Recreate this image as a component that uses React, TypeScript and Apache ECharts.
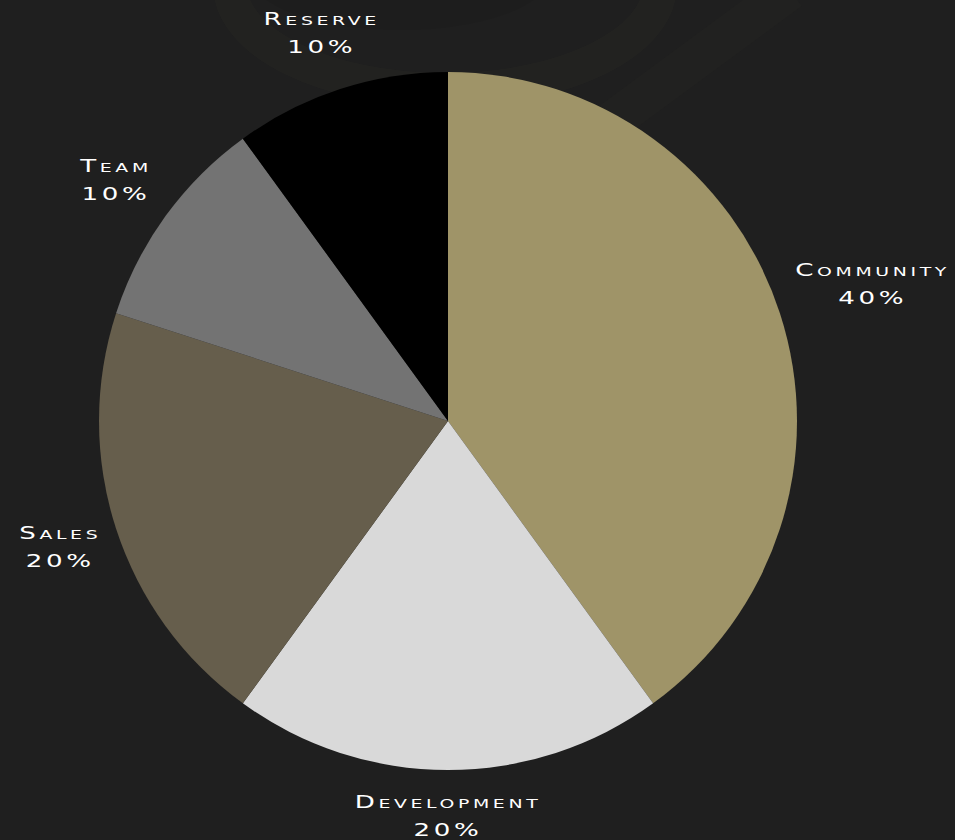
import React, { useEffect, useRef } from "react";
import * as echarts from "echarts";

const categories = ["Community", "Development", "Sales", "Team", "Reserve"];
const shares = [40, 20, 20, 10, 10];
const colors = ["#9f9468", "#d9d9d9", "#665e4c", "#737373", "#000000"];

const CENTER = [448, 421];
const RADIUS = 349;
const LABEL_GAP = 17;
const STRETCH = 1.45;

export default function App() {
  const ref = useRef<HTMLDivElement>(null);

  useEffect(() => {
    if (!ref.current) return;
    const chart = echarts.init(ref.current, null, { renderer: "svg" });
    const total = shares.reduce((a, b) => a + b, 0);
    const midAngles: number[] = [];
    let acc = 0;
    shares.forEach((v) => {
      const mid = 90 - ((acc + v / 2) / total) * 360;
      midAngles.push((mid * Math.PI) / 180);
      acc += v;
    });

    chart.setOption({
      animation: false,
      backgroundColor: "#1f1f1f",
      graphic: [
        {
          type: "ellipse",
          z: -10,
          silent: true,
          shape: { cx: 445, cy: -15, rx: 215, ry: 105 },
          style: { fill: "none", stroke: "rgba(150,135,90,0.035)", lineWidth: 34 },
        },
        {
          type: "ellipse",
          z: -10,
          silent: true,
          shape: { cx: 400, cy: -25, rx: 150, ry: 55 },
          style: { fill: "rgba(0,0,0,0.06)" },
        },
        {
          type: "line",
          z: -10,
          silent: true,
          shape: { x1: 790, y1: -10, x2: 600, y2: 130 },
          style: { stroke: "rgba(150,135,90,0.02)", lineWidth: 40 },
        },
      ],
      series: [
        {
          type: "pie",
          center: CENTER,
          radius: RADIUS,
          startAngle: 90,
          clockwise: true,
          avoidLabelOverlap: false,
          silent: true,
          itemStyle: { borderWidth: 0 },
          data: categories.map((name, i) => ({
            name,
            value: shares[i],
            itemStyle: { color: colors[i] },
          })),
          label: {
            show: true,
            position: "outside",
            color: "#ffffff",
            fontFamily: "DejaVu Sans",
            fontSize: 18,
            lineHeight: 28,
            align: "center",
            formatter: (p: any) => `${p.name}\n${Math.round(p.percent)}%`,
          },
          labelLine: { show: false },
          labelLayout: (params: any) => {
            const a = midAngles[params.dataIndex];
            const w = params.labelRect.width * 1.45;
            const h = params.labelRect.height;
            const ext = (w / 2) * Math.abs(Math.cos(a)) + (h / 2) * Math.abs(Math.sin(a));
            const d = RADIUS + LABEL_GAP + ext;
            return {
              x: CENTER[0] + d * Math.cos(a),
              y: CENTER[1] - d * Math.sin(a),
              align: "center",
              verticalAlign: "middle",
            };
          },
        },
      ],
    });

    ref.current.querySelectorAll("text").forEach((t: any) => {
      try {
        const len = t.getComputedTextLength();
        if (len > 0) {
          t.setAttribute("textLength", String(len * STRETCH));
          t.setAttribute("lengthAdjust", "spacingAndGlyphs");
        }
      } catch (e) {}
    });

    return () => chart.dispose();
  }, []);

  return (
    <>
      <style>{`
        html, body { margin: 0; padding: 0; background: #1f1f1f; }
        #root text { font-variant: small-caps; letter-spacing: 2.5px; }
      `}</style>
      <div ref={ref} style={{ width: 955, height: 840 }} />
    </>
  );
}
